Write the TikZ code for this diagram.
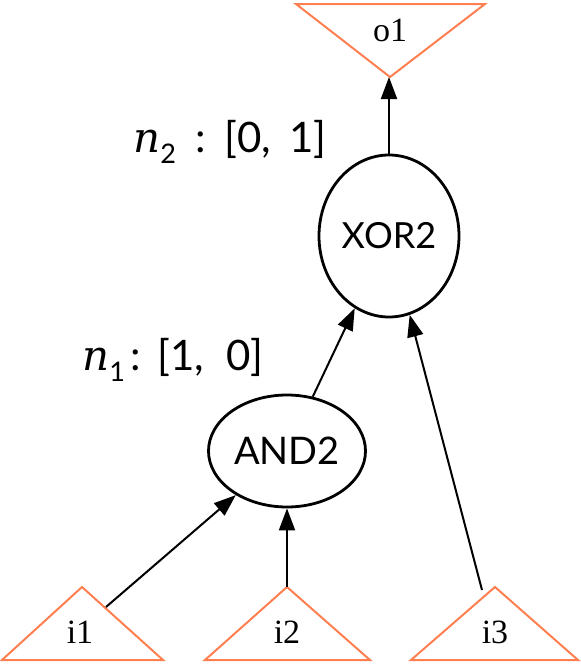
\documentclass[tikz,border=0pt]{standalone}
\usepackage{fontspec}
\setmainfont{Liberation Serif}
\newfontfamily\lblsans{Lato}
\newfontfamily\lblital{DejaVu Serif}
\usetikzlibrary{shapes.geometric,arrows.meta}
\definecolor{tricol}{RGB}{255,127,80}
\tikzset{
  gate/.style={ellipse, draw=black, line width=2.8pt, inner sep=0pt},
  tri/.style={draw=tricol, line width=2pt, line join=miter},
  trilabel/.style={font=\fontsize{34}{34}\selectfont, inner sep=0pt},
  conn/.style={draw=black, line width=2pt, -{Triangle[length=22pt,width=16pt]}},
  annot/.style={font=\lblsans\fontsize{42}{42}\selectfont, inner sep=0pt, anchor=base west}
}
\newcommand{\subdig}[1]{\raisebox{-11pt}{\fontsize{27}{27}\selectfont #1}}
\begin{document}
\begin{tikzpicture}[x=1pt,y=-1pt]
\useasboundingbox (0,0) rectangle (581,670);
% triangles
\draw[tri] (296,4) -- (485,4) -- (390,77) -- cycle;
\draw[tri] (2,660) -- (163,660) -- (82,587) -- cycle;
\draw[tri] (205,660) -- (370,660) -- (287,587) -- cycle;
\draw[tri] (411,660) -- (578,660) -- (495,587) -- cycle;
\node[trilabel] (o1) at (390,30) {o1};
\node[trilabel] (i1) at (80,632) {i1};
\node[trilabel] (i2) at (287,632) {i2};
\node[trilabel] (i3) at (495,632) {i3};
\coordinate (o1a) at (389,77);
\coordinate (i1e) at (106,607);
\coordinate (i2a) at (287,587);
\coordinate (i3e) at (482,590);
% gates
\node[gate, minimum width=140pt, minimum height=162pt, font=\lblsans\fontsize{36}{36}\selectfont] (xor) at (389,236) {XOR2};
\node[gate, minimum width=157pt, minimum height=112pt, font=\lblsans\fontsize{38}{38}\selectfont] (and) at (287,451) {AND2};
% connectors
\draw[conn] (xor) -- (o1a);
\draw[conn] (and) -- (xor);
\draw[conn] (i1e) -- (and);
\draw[conn] (i2a) -- (and);
\draw[conn] (i3e) -- (xor);
% annotations
\node[annot] (n2) at (133,152) {{\lblital\itshape n}\subdig{2}\hspace{20pt}:\hspace{18pt}[0,\hspace{18pt}1]};
\node[annot] (n1) at (82,370) {{\lblital\itshape n}\subdig{1}\hspace{6pt}:\hspace{16pt}[1,\hspace{22pt}0]};
\end{tikzpicture}
\end{document}
